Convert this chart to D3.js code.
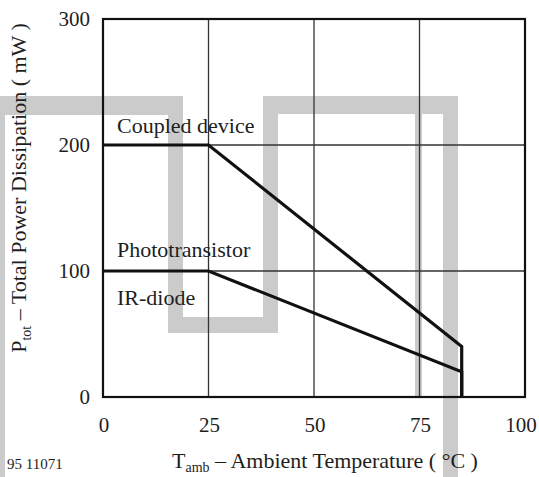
<!DOCTYPE html>
<html><head><meta charset="utf-8">
<script src="https://cdn.jsdelivr.net/npm/d3@7"></script>
<style>body{margin:0;background:#fff}svg{display:block}text{font-family:"Liberation Serif","DejaVu Serif",serif;fill:#1e1e1e}</style>
</head><body>
<script>
const xTicks = [0, 25, 50, 75, 100];
const yTicks = [0, 100, 200, 300];
const coupledX = [0, 25, 85, 85];
const coupledY = [200, 200, 40, 0];
const photoX = [0, 25, 85, 85];
const photoY = [100, 100, 20, 0];
const labels = ["Coupled device", "Phototransistor", "IR-diode"];
const labelY = [216, 117, 79];

const W = 539, H = 477;
const svg = d3.select("body").append("svg").attr("width", W).attr("height", H);
const x = d3.scaleLinear().domain([0, 100]).range([103, 525]);
const y = d3.scaleLinear().domain([0, 300]).range([397, 19]);

// watermark
const wm = svg.append("g").attr("fill", "#cbcbcb");
[[0,96,183,19],[0,96,5,381],[168,96,15,237],[168,317,110,16],[263,96,15,237],[263,96,195,18],[443,96,15,381],[415,114,7,283]]
  .forEach(r => wm.append("rect").attr("x", r[0]).attr("y", r[1]).attr("width", r[2]).attr("height", r[3]));

// grid
const g = svg.append("g").attr("stroke", "#333").attr("stroke-width", 1.3);
xTicks.slice(1, -1).forEach(t => g.append("line").attr("x1", x(t)).attr("x2", x(t)).attr("y1", y(0)).attr("y2", y(300)));
yTicks.slice(1, -1).forEach(t => g.append("line").attr("y1", y(t)).attr("y2", y(t)).attr("x1", x(0)).attr("x2", x(100)));
svg.append("rect").attr("x", x(0)).attr("y", y(300)).attr("width", x(100) - x(0)).attr("height", y(0) - y(300))
  .attr("fill", "none").attr("stroke", "#111").attr("stroke-width", 2.2);

// axes labels
svg.append("g").selectAll("text").data(yTicks).join("text")
  .attr("x", 90).attr("y", d => y(d)).attr("dy", "0.35em").attr("text-anchor", "end")
  .attr("font-size", 21).text(d => d);
svg.append("g").selectAll("text").data(xTicks).join("text")
  .attr("x", d => d === 100 ? x(d) - 4 : x(d) + 1).attr("y", 425).attr("dy", "0.35em").attr("text-anchor", "middle")
  .attr("font-size", 21).text(d => d);

// curves
const line = d3.line().x(d => x(d[0])).y(d => y(d[1]));
[[coupledX, coupledY], [photoX, photoY]].forEach(([xs, ys]) => {
  svg.append("path").attr("d", line(xs.map((v, i) => [v, ys[i]])))
    .attr("fill", "none").attr("stroke", "#111").attr("stroke-width", 3.2).attr("stroke-linejoin", "miter");
});

// curve labels
labels.forEach((l, i) => svg.append("text").attr("x", 117).attr("y", y(labelY[i])).attr("dy", "0.35em")
  .attr("font-size", 22).text(l));

// y title
const yt = svg.append("text").attr("transform", "translate(26,188) rotate(-90)").attr("text-anchor", "middle").attr("font-size", 22);
yt.append("tspan").text("P");
yt.append("tspan").attr("font-size", 14).attr("dy", 5).text("tot");
yt.append("tspan").attr("dy", -5).text(" – Total Power Dissipation ( mW )");

// x title
const xt = svg.append("text").attr("x", 325).attr("y", 468).attr("text-anchor", "middle").attr("font-size", 22);
xt.append("tspan").text("T");
xt.append("tspan").attr("font-size", 14).attr("dy", 4).text("amb");
xt.append("tspan").attr("dy", -4).text(" – Ambient Temperature ( °C )");

svg.append("text").attr("x", 7).attr("y", 469).attr("font-size", 15).text("95 11071");
</script>
</body></html>
